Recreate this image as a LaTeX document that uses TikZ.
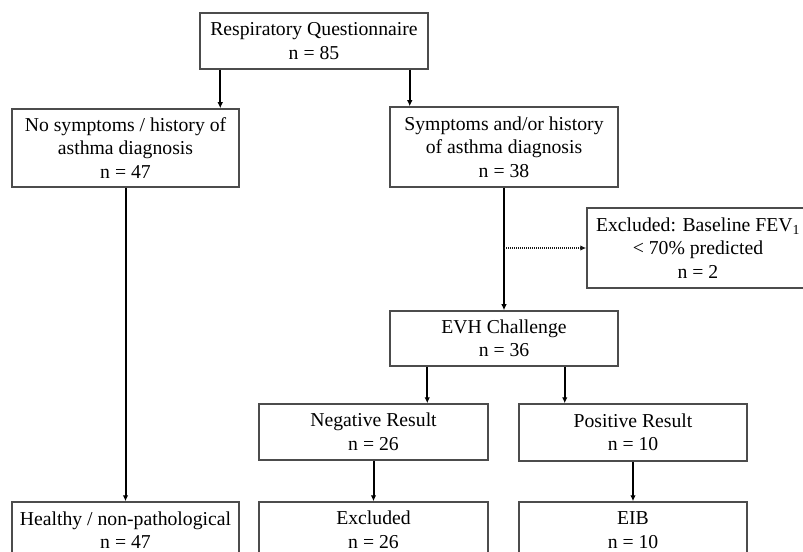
\documentclass[tikz,border=0pt]{standalone}
\usepackage{fontspec}
\setmainfont{Liberation Serif}
\usetikzlibrary{arrows.meta}
\tikzset{
  box/.style={draw=black!70, line width=1.5bp, fill=white, inner sep=0pt, align=center,
    font=\fontsize{19.7bp}{23.5bp}\selectfont, text=black},
  arr/.style={draw=black, line width=2bp, -{Latex[length=6bp,width=5.5bp]}},
  dotarr/.style={draw=black!90, line width=1.5bp, dash pattern=on 1bp off 1bp, -{Latex[length=6bp,width=5.5bp]}}
}
\begin{document}
\begin{tikzpicture}[x=1bp,y=-1bp]
\useasboundingbox (0,0) rectangle (803,552);
\fill[white] (0,0) rectangle (803,552);
\clip (0,0) rectangle (803,552);

\node[box, minimum width=228bp, minimum height=56bp] (q) at (314,41) {Respiratory Questionnaire\\ n = 85};
\node[box, minimum width=227bp, minimum height=78bp] (nos) at (125.5,148) {No symptoms / history of\\ asthma diagnosis\\ n = 47};
\node[box, minimum width=228bp, minimum height=80bp] (sym) at (504,147) {Symptoms and/or history\\ of asthma diagnosis\\ n = 38};
\node[box, minimum width=222bp, minimum height=80bp] (fev) at (698,248) {Excluded: Baseline FEV\textsubscript{1}\\ < 70\% predicted\\ n = 2};
\node[box, minimum width=228bp, minimum height=55bp] (evh) at (504,338.5) {EVH Challenge\\ n = 36};
\node[box, minimum width=229bp, minimum height=56bp] (neg) at (373.5,432) {Negative Result\\ n = 26};
\node[box, minimum width=228bp, minimum height=57bp] (pos) at (633,432.5) {Positive Result\\ n = 10};
\node[box, minimum width=227bp, minimum height=56bp] (hea) at (125.5,530) {Healthy / non-pathological\\ n = 47};
\node[box, minimum width=229bp, minimum height=56bp] (exc) at (373.5,530) {Excluded\\ n = 26};
\node[box, minimum width=228bp, minimum height=56bp] (eib) at (633,530) {EIB\\ n = 10};

\coordinate (qa) at ([xshift=21bp]q.south west);
\coordinate (qb) at ([xshift=-19bp]q.south east);
\coordinate (ea) at ([xshift=38bp]evh.south west);
\coordinate (eb) at ([xshift=-54bp]evh.south east);

\draw[arr] (qa) -- (qa |- nos.north);
\draw[arr] (qb) -- (qb |- sym.north);
\draw[arr] (nos.south) -- (hea.north);
\draw[arr] (sym.south) -- (evh.north);
\coordinate (d) at (sym.south |- fev.west);
\draw[dotarr] (d) -- (fev.west);
\draw[arr] (ea) -- (ea |- neg.north);
\draw[arr] (eb) -- (eb |- pos.north);
\draw[arr] (neg.south) -- (exc.north);
\draw[arr] (pos.south) -- (eib.north);
\end{tikzpicture}
\end{document}
